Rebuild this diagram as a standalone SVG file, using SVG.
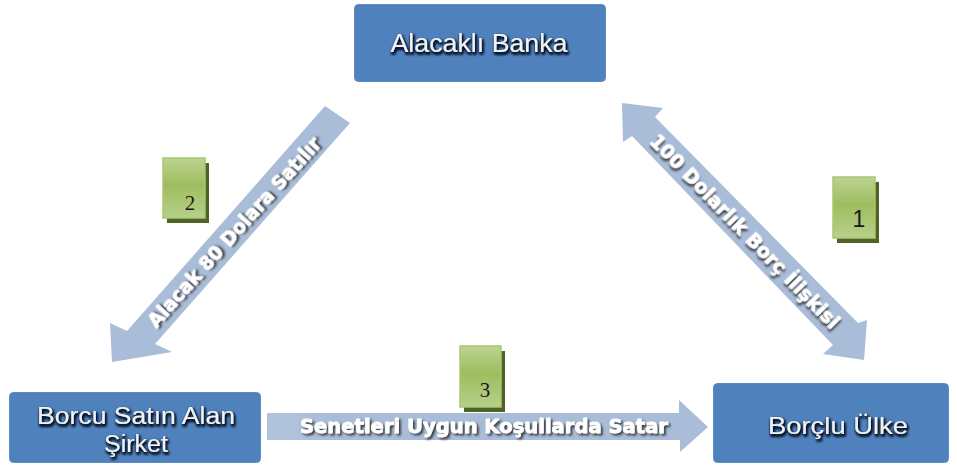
<svg xmlns="http://www.w3.org/2000/svg" width="957" height="467" viewBox="0 0 957 467">
  <defs>
    <linearGradient id="greenFill" x1="0" y1="0" x2="0" y2="1">
      <stop offset="0" stop-color="#bcd393"/>
      <stop offset="0.45" stop-color="#9ebd5e"/>
      <stop offset="1" stop-color="#b7d08b"/>
    </linearGradient>
    <linearGradient id="hArrowFill" x1="0" y1="0" x2="1" y2="0">
      <stop offset="0" stop-color="#b3c4dd"/>
      <stop offset="0.15" stop-color="#a9bcd8"/>
      <stop offset="1" stop-color="#a9bcd8"/>
    </linearGradient>
    <filter id="boxTextShadow" x="-10%" y="-40%" width="120%" height="180%">
      <feGaussianBlur in="SourceAlpha" stdDeviation="1.8" result="b"/>
      <feOffset in="b" dx="1" dy="1.5" result="o"/>
      <feFlood flood-color="#0b1626" flood-opacity="1"/>
      <feComposite in2="o" operator="in" result="s"/>
      <feMerge>
        <feMergeNode in="s"/>
        <feMergeNode in="s"/>
        <feMergeNode in="s"/>
        <feMergeNode in="SourceGraphic"/>
      </feMerge>
    </filter>
    <filter id="arrowTextShadow" x="-10%" y="-40%" width="120%" height="180%">
      <feGaussianBlur in="SourceAlpha" stdDeviation="1.2" result="b"/>
      <feOffset in="b" dx="1.5" dy="1.5" result="o"/>
      <feFlood flood-color="#333333" flood-opacity="0.9"/>
      <feComposite in2="o" operator="in" result="s"/>
      <feMerge>
        <feMergeNode in="s"/>
        <feMergeNode in="SourceGraphic"/>
      </feMerge>
    </filter>
  </defs>
  <style>
    .box { fill: #4f81bd; stroke: #5a8ac4; stroke-width: 1; }
    .boxText { font-family: "Liberation Sans", Arial, sans-serif; font-size: 25px; fill: #eef1f5; text-anchor: middle; filter: url(#boxTextShadow); }
    .arrow { fill: #a9bcd8; }
    .arrowText { font-family: "DejaVu Sans", "Liberation Sans", sans-serif; font-weight: bold; font-size: 20px; fill: #ffffff; stroke: #ffffff; stroke-width: 0.8; stroke-linejoin: round; text-anchor: middle; filter: url(#arrowTextShadow); }
    .tagShadow { fill: #4f6228; }
    .tag { fill: url(#greenFill); stroke: #a8c870; stroke-width: 1.5; }
    .tagNum { font-family: "Liberation Serif", "Times New Roman", serif; font-size: 21px; fill: #1a1a1a; text-anchor: middle; }
  </style>

  <rect width="957" height="467" fill="#ffffff"/>

  <!-- connectors -->
  <g id="connectors">
    <g id="arrow-sale">
      <polygon class="arrow" points="325,106 350,123 155,344 172,352 112,362 110,323 127,331"/>
      <text class="arrowText" transform="translate(234,232) rotate(-48)" y="7" textLength="248" lengthAdjust="spacingAndGlyphs">Alacak 80 Dolara Satılır</text>
    </g>
    <g id="arrow-debt">
      <polygon class="arrow" points="622,103 663,108 655,117 858,323 867,320 864,360 823,354 833,345 632,136 623,142"/>
      <text class="arrowText" transform="translate(745,231) rotate(45.8)" y="7" textLength="262" lengthAdjust="spacingAndGlyphs">100 Dolarlık Borç İlişkisi</text>
    </g>
    <g id="arrow-notes">
      <polygon points="267,413 679,413 679,400 708,427 680,452 680,440 267,440" fill="url(#hArrowFill)"/>
      <text class="arrowText" x="484" y="433" textLength="368" lengthAdjust="spacingAndGlyphs">Senetleri Uygun Koşullarda Satar</text>
    </g>
  </g>

  <!-- nodes -->
  <g id="node-bank">
    <rect class="box" x="354.5" y="4.5" width="251" height="77" rx="4"/>
    <text class="boxText" x="479" y="52" style="font-size: 26px;" textLength="177" lengthAdjust="spacingAndGlyphs">Alacaklı Banka</text>
  </g>
  <g id="node-buyer">
    <rect class="box" x="9.5" y="392.5" width="251" height="70" rx="4"/>
    <text class="boxText" x="136" y="424" style="font-size: 23px;" textLength="198" lengthAdjust="spacingAndGlyphs">Borcu Satın Alan</text>
    <text class="boxText" x="136" y="452" style="font-size: 23px;" textLength="64" lengthAdjust="spacingAndGlyphs">Şirket</text>
  </g>
  <g id="node-debtor">
    <rect class="box" x="713.5" y="383.5" width="235" height="79" rx="4"/>
    <text class="boxText" x="838" y="434" style="font-size: 24px;" textLength="140" lengthAdjust="spacingAndGlyphs">Borçlu Ülke</text>
  </g>

  <!-- step tags -->
  <g id="tag-1">
    <rect class="tagShadow" x="837" y="182" width="42" height="61"/>
    <rect class="tag" x="833" y="177" width="42" height="61"/>
    <text class="tagNum" x="859" y="227" style="font-family: 'Liberation Sans', Arial, sans-serif; font-size: 23px;">1</text>
  </g>
  <g id="tag-2">
    <rect class="tagShadow" x="167" y="163" width="42" height="60"/>
    <rect class="tag" x="163" y="158" width="42" height="60"/>
    <text class="tagNum" x="190" y="210">2</text>
  </g>
  <g id="tag-3">
    <rect class="tagShadow" x="464" y="351" width="41" height="61"/>
    <rect class="tag" x="460" y="346" width="41" height="61"/>
    <text class="tagNum" x="485" y="397">3</text>
  </g>
</svg>
